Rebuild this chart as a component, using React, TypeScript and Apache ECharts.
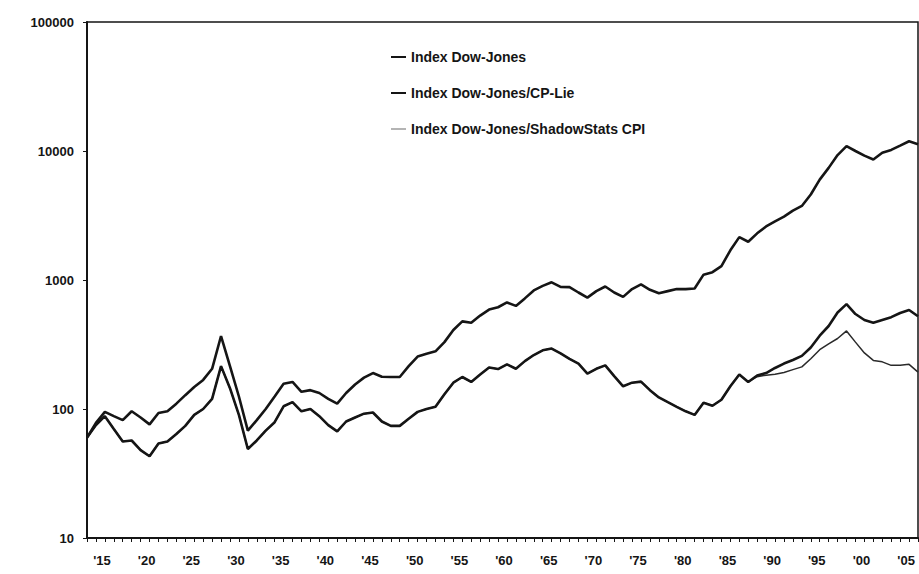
import React, { useEffect, useRef } from "react";
import * as echarts from "echarts";

const years: string[] = [
  "1914","1915","1916","1917","1918","1919","1920","1921","1922","1923",
  "1924","1925","1926","1927","1928","1929","1930","1931","1932","1933",
  "1934","1935","1936","1937","1938","1939","1940","1941","1942","1943",
  "1944","1945","1946","1947","1948","1949","1950","1951","1952","1953",
  "1954","1955","1956","1957","1958","1959","1960","1961","1962","1963",
  "1964","1965","1966","1967","1968","1969","1970","1971","1972","1973",
  "1974","1975","1976","1977","1978","1979","1980","1981","1982","1983",
  "1984","1985","1986","1987","1988","1989","1990","1991","1992","1993",
  "1994","1995","1996","1997","1998","1999","2000","2001","2002","2003",
  "2004","2005","2006","2007",
];

const dowJones: number[] = [
  60, 78, 95, 88, 82, 96, 86, 76, 93, 96,
  110, 128, 148, 168, 205, 368, 215, 125, 68, 82,
  100, 125, 157, 162, 136, 140, 133, 120, 110, 133,
  155, 175, 190, 178, 177, 177, 215, 255, 268, 280,
  330, 410, 478, 466, 530, 590, 615, 670, 630, 720,
  830, 900, 960, 885, 880, 800, 730, 820, 890, 800,
  740, 850, 925, 840, 790, 820, 850, 850, 860, 1100,
  1150, 1280, 1700, 2150, 1980, 2300, 2600, 2850, 3100, 3450,
  3750, 4600, 6000, 7400, 9300, 10900, 10000, 9200, 8600, 9700,
  10200, 11000, 11900, 11300,
];

const dowJonesCpi: number[] = [
  60, 75, 88, 70, 56, 57, 48, 43, 54, 56,
  64, 74, 90, 100, 120, 215, 145, 90, 49, 57,
  68, 79, 105, 113, 96, 100, 88, 75, 67, 80,
  86, 92, 94, 80, 74, 74, 84, 95, 100, 104,
  130, 160, 177, 162, 185, 210, 204, 222, 205, 235,
  262, 285, 294, 270, 245, 225, 188, 205, 218, 180,
  150, 160, 163, 140, 123, 113, 104, 96, 90, 112,
  106, 118, 150, 185, 162, 182, 190, 208, 225, 240,
  258, 300, 370, 440, 560, 650, 545, 490, 466, 490,
  515, 555, 585, 524,
];

const dowJonesShadow: number[] = [
  60, 75, 88, 70, 56, 57, 48, 43, 54, 56,
  64, 74, 90, 100, 120, 215, 145, 90, 49, 57,
  68, 79, 105, 113, 96, 100, 88, 75, 67, 80,
  86, 92, 94, 80, 74, 74, 84, 95, 100, 104,
  130, 160, 177, 162, 185, 210, 204, 222, 205, 235,
  262, 285, 294, 270, 245, 225, 188, 205, 218, 180,
  150, 160, 163, 140, 123, 113, 104, 96, 90, 112,
  106, 118, 150, 185, 162, 178, 183, 186, 192, 202,
  212, 245, 288, 320, 352, 403, 330, 272, 238, 232,
  218, 218, 222, 193,
];

const seriesNames = [
  "Index Dow-Jones",
  "Index Dow-Jones/CP-Lie",
  "Index Dow-Jones/ShadowStats CPI",
];

const INK = "#151515";
const FONT = "'Liberation Sans', Arial, sans-serif";

export default function App() {
  const ref = useRef<HTMLDivElement>(null);

  useEffect(() => {
    if (!ref.current) return;
    const chart = echarts.init(ref.current, null, { renderer: "svg" });
    chart.setOption({
      animation: false,
      backgroundColor: "#ffffff",
      grid: {
        left: 87,
        top: 22,
        right: 1,
        bottom: 36,
        show: true,
        borderColor: INK,
        borderWidth: 1.5,
        containLabel: false,
      },
      legend: {
        orient: "vertical",
        left: 386,
        top: 44,
        icon: "rect",
        itemWidth: 15,
        itemHeight: 2,
        itemGap: 20,
        selectedMode: false,
        textStyle: {
          color: INK,
          fontFamily: FONT,
          fontWeight: "bold",
          fontSize: 14,
          lineHeight: 16,
        },
        data: [
          { name: seriesNames[0], itemStyle: { color: INK } },
          { name: seriesNames[1], itemStyle: { color: INK } },
          { name: seriesNames[2], itemStyle: { color: "#b4b4b4" } },
        ],
      },
      xAxis: {
        type: "category",
        data: years,
        boundaryGap: false,
        axisLine: { lineStyle: { color: INK, width: 2 } },
        axisTick: { show: true, interval: 0, length: 4, lineStyle: { color: INK, width: 1 } },
        axisLabel: {
          interval: (_i: number, v: string) => Number(v) % 5 === 0,
          formatter: (v: string) => "'" + v.slice(2),
          color: INK,
          fontFamily: FONT,
          fontWeight: "bold",
          fontSize: 13,
          margin: 16,
          padding: [0, 0, 0, 12],
        },
        splitLine: { show: false },
      },
      yAxis: {
        type: "log",
        logBase: 10,
        min: 10,
        max: 100000,
        axisLine: { show: true, lineStyle: { color: INK, width: 2 } },
        axisTick: { show: true, length: 4, lineStyle: { color: INK } },
        axisLabel: {
          color: INK,
          fontFamily: FONT,
          fontWeight: "bold",
          fontSize: 13,
          margin: 13,
          formatter: (v: number) => String(Math.round(v)),
        },
        splitLine: { show: false },
      },
      series: [
        {
          name: seriesNames[2],
          type: "line",
          data: dowJonesShadow,
          showSymbol: false,
          symbol: "none",
          color: INK,
          lineStyle: { color: "#2a2a2a", width: 1.5 },
          z: 1,
        },
        {
          name: seriesNames[1],
          type: "line",
          data: dowJonesCpi,
          showSymbol: false,
          symbol: "none",
          color: INK,
          lineStyle: { color: INK, width: 2.6 },
          z: 2,
        },
        {
          name: seriesNames[0],
          type: "line",
          data: dowJones,
          showSymbol: false,
          symbol: "none",
          color: INK,
          lineStyle: { color: INK, width: 2.6 },
          z: 3,
        },
      ],
    });
    return () => chart.dispose();
  }, []);

  return (
    <div
      ref={ref}
      style={{ position: "fixed", left: 0, top: 0, width: 919, height: 574, background: "#fff" }}
    />
  );
}
